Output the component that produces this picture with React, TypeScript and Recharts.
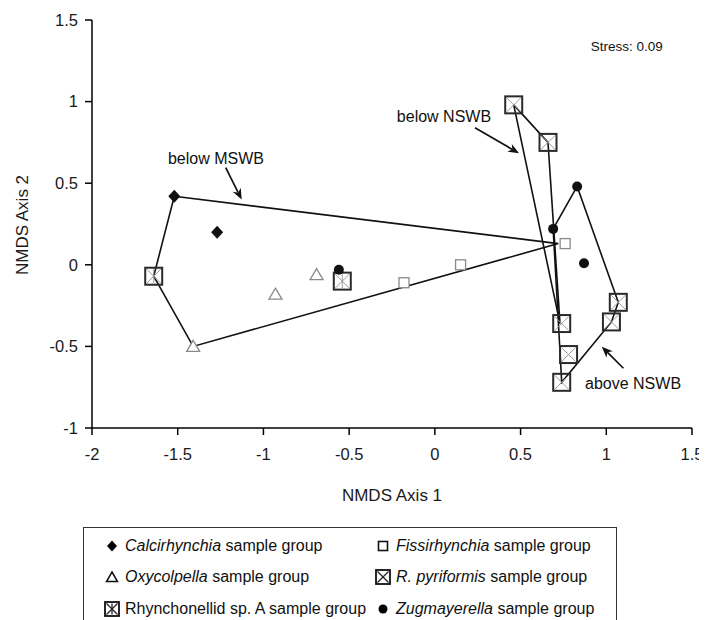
import { ScatterChart, Scatter, XAxis, YAxis, ReferenceLine, ReferenceDot } from 'recharts';

type Pt = { x: number; y: number };

// sample groups (NMDS axis 1, axis 2)
const calcirhynchia: Pt[] = [{ x: -1.52, y: 0.42 }, { x: -1.27, y: 0.2 }];
const fissirhynchia: Pt[] = [{ x: -0.18, y: -0.11 }, { x: 0.15, y: 0.0 }, { x: 0.76, y: 0.13 }];
const oxycolpella: Pt[] = [{ x: -1.41, y: -0.5 }, { x: -0.93, y: -0.18 }, { x: -0.69, y: -0.06 }];
const rPyriformis: Pt[] = [
  { x: 0.46, y: 0.98 }, { x: 0.66, y: 0.75 }, { x: 0.74, y: -0.36 }, { x: 0.78, y: -0.55 },
  { x: 0.74, y: -0.72 }, { x: 1.03, y: -0.35 }, { x: 1.07, y: -0.23 },
];
const rhynchonellidA: Pt[] = [{ x: -1.64, y: -0.07 }, { x: -0.54, y: -0.1 }];
const zugmayerella: Pt[] = [{ x: -0.56, y: -0.03 }, { x: 0.69, y: 0.22 }, { x: 0.83, y: 0.48 }, { x: 0.87, y: 0.01 }];

// hull outlines, closed
const hullBelowMSWB: Pt[] = [
  { x: -1.52, y: 0.42 }, { x: 0.72, y: 0.13 }, { x: -1.41, y: -0.5 }, { x: -1.64, y: -0.07 }, { x: -1.52, y: 0.42 },
];
const hullBelowNSWB: Pt[] = [{ x: 0.46, y: 0.98 }, { x: 0.66, y: 0.75 }, { x: 0.73, y: -0.36 }, { x: 0.46, y: 0.98 }];
const hullAboveNSWB: Pt[] = [
  { x: 0.69, y: 0.22 }, { x: 0.83, y: 0.48 }, { x: 1.07, y: -0.23 }, { x: 1.03, y: -0.35 }, { x: 0.74, y: -0.72 }, { x: 0.69, y: 0.22 },
];

const xTicks = [-2, -1.5, -1, -0.5, 0, 0.5, 1, 1.5];
const yTicks = [-1, -0.5, 0, 0.5, 1, 1.5];

const FONT = 'Arial, "Liberation Sans", sans-serif';
const INK = '#111';
const GREY = '#8a8a8a';

const Diamond = ({ cx, cy }: any) => (
  <polygon points={`${cx},${cy - 6.5} ${cx + 6},${cy} ${cx},${cy + 6.5} ${cx - 6},${cy}`} fill={INK} />
);
const OpenSquare = ({ cx, cy }: any) => (
  <rect x={cx - 5} y={cy - 5} width={10} height={10} fill="#fff" stroke={GREY} strokeWidth={1.3} />
);
const Triangle = ({ cx, cy }: any) => (
  <polygon points={`${cx},${cy - 6} ${cx + 6.5},${cy + 5} ${cx - 6.5},${cy + 5}`} fill="#fff" stroke={GREY} strokeWidth={1.3} />
);
const XBox = ({ cx, cy }: any) => (
  <g>
    <line x1={cx - 7} y1={cy - 7} x2={cx + 7} y2={cy + 7} stroke="#999" strokeWidth={1} />
    <line x1={cx + 7} y1={cy - 7} x2={cx - 7} y2={cy + 7} stroke="#999" strokeWidth={1} />
    <rect x={cx - 8.5} y={cy - 8.5} width={17} height={17} fill="none" stroke="#2a2a2a" strokeWidth={2} />
  </g>
);
const StarBox = ({ cx, cy }: any) => (
  <g>
    <line x1={cx - 7} y1={cy - 7} x2={cx + 7} y2={cy + 7} stroke="#999" strokeWidth={1} />
    <line x1={cx + 7} y1={cy - 7} x2={cx - 7} y2={cy + 7} stroke="#999" strokeWidth={1} />
    <line x1={cx} y1={cy - 7} x2={cx} y2={cy + 7} stroke="#999" strokeWidth={1} />
    <rect x={cx - 8.5} y={cy - 8.5} width={17} height={17} fill="none" stroke="#2a2a2a" strokeWidth={2} />
  </g>
);
const Dot = ({ cx, cy }: any) => <circle cx={cx} cy={cy} r={5} fill={INK} />;
const NoMark = () => <g />;

const Arrow = (p: any) => {
  const { x1, y1, x2, y2 } = p;
  const a = Math.atan2(y2 - y1, x2 - x1);
  const L = 11, W = 4.5;
  const bx = x2 - L * Math.cos(a), by = y2 - L * Math.sin(a);
  const nx = -Math.sin(a), ny = Math.cos(a);
  const mx = x2 - L * 0.7 * Math.cos(a), my = y2 - L * 0.7 * Math.sin(a);
  return (
    <g>
      <line x1={x1} y1={y1} x2={mx} y2={my} stroke={INK} strokeWidth={1.7} />
      <polygon
        points={`${x2},${y2} ${bx + nx * W},${by + ny * W} ${mx},${my} ${bx - nx * W},${by - ny * W}`}
        fill={INK}
      />
    </g>
  );
};

const note = (text: string, anchor: 'start' | 'middle' | 'end', size = 16) => (p: any) => (
  <text x={p.cx} y={p.cy} dy="0.35em" textAnchor={anchor} fontSize={size} fontFamily={FONT} fill={INK}>
    {text}
  </text>
);

const legendRows = [
  [{ mark: 'diamond', name: 'Calcirhynchia', italic: true }, { mark: 'square', name: 'Fissirhynchia', italic: true }],
  [{ mark: 'triangle', name: 'Oxycolpella', italic: true }, { mark: 'xbox', name: 'R. pyriformis', italic: true }],
  [{ mark: 'starbox', name: 'Rhynchonellid sp. A', italic: false }, { mark: 'dot', name: 'Zugmayerella', italic: true }],
];

function LegendMark({ kind }: { kind: string }) {
  const c = 8;
  return (
    <svg width={16} height={16} style={{ display: 'block', flexShrink: 0 }}>
      {kind === 'diamond' && <polygon points={`${c},${c - 5.5} ${c + 5},${c} ${c},${c + 5.5} ${c - 5},${c}`} fill="#000" />}
      {kind === 'square' && <rect x={c - 4.5} y={c - 4.5} width={9} height={9} fill="#fff" stroke="#111" strokeWidth={1.6} />}
      {kind === 'triangle' && <polygon points={`${c},${c - 5} ${c + 5.5},${c + 4.5} ${c - 5.5},${c + 4.5}`} fill="#fff" stroke="#111" strokeWidth={1.5} />}
      {(kind === 'xbox' || kind === 'starbox') && (
        <g>
          <line x1={c - 5.5} y1={c - 5.5} x2={c + 5.5} y2={c + 5.5} stroke="#222" strokeWidth={1.3} />
          <line x1={c + 5.5} y1={c - 5.5} x2={c - 5.5} y2={c + 5.5} stroke="#222" strokeWidth={1.3} />
          {kind === 'starbox' && <line x1={c} y1={c - 5.5} x2={c} y2={c + 5.5} stroke="#222" strokeWidth={1.3} />}
          <rect x={c - 7} y={c - 7} width={14} height={14} fill="none" stroke="#111" strokeWidth={1.8} />
        </g>
      )}
      {kind === 'dot' && <circle cx={c} cy={c} r={4.5} fill="#000" />}
    </svg>
  );
}

export default function App() {
  return (
    <div style={{ position: 'relative', width: 699, height: 612, overflow: 'hidden', fontFamily: FONT }}>
      <ScatterChart width={699} height={612} margin={{ top: 12, right: 15, bottom: 112, left: 0 }}>
        <XAxis
          type="number"
          dataKey="x"
          domain={[-2, 1.5]}
          ticks={xTicks}
          allowDataOverflow
          height={80}
          axisLine={{ stroke: '#000', strokeWidth: 1.5 }}
          tickLine={{ stroke: '#000', strokeWidth: 1.5 }}
          tickSize={7}
          tickMargin={13}
          tick={{ fill: '#1a1a1a', fontSize: 16.5, fontFamily: FONT }}
          label={{ value: 'NMDS Axis 1', position: 'insideBottom', offset: 7, fill: '#1a1a1a', fontSize: 17, fontFamily: FONT }}
        />
        <YAxis
          type="number"
          dataKey="y"
          domain={[-1, 1.5]}
          ticks={yTicks}
          allowDataOverflow
          width={84}
          axisLine={{ stroke: '#000', strokeWidth: 1.5 }}
          tickLine={{ stroke: '#000', strokeWidth: 1.5 }}
          tickSize={7}
          tickMargin={7}
          tick={{ fill: '#1a1a1a', fontSize: 16.5, fontFamily: FONT }}
          label={{
            content: ({ viewBox }: any) => {
              const x = viewBox.x + 14;
              const y = viewBox.y + viewBox.height / 2 + 1;
              return (
                <text x={x} y={y} transform={`rotate(-90, ${x}, ${y})`} textAnchor="middle" dy="0.35em"
                  fontSize={17} fontFamily={FONT} fill="#1a1a1a">
                  NMDS Axis 2
                </text>
              );
            },
          }}
        />

        <Scatter data={hullBelowMSWB} line={{ stroke: INK, strokeWidth: 1.6 }} shape={NoMark} isAnimationActive={false} />
        <Scatter data={hullBelowNSWB} line={{ stroke: INK, strokeWidth: 1.6 }} shape={NoMark} isAnimationActive={false} />
        <Scatter data={hullAboveNSWB} line={{ stroke: INK, strokeWidth: 1.6 }} shape={NoMark} isAnimationActive={false} />

        <Scatter name="Fissirhynchia" data={fissirhynchia} shape={OpenSquare} isAnimationActive={false} />
        <Scatter name="Oxycolpella" data={oxycolpella} shape={Triangle} isAnimationActive={false} />
        <Scatter name="R. pyriformis" data={rPyriformis} shape={XBox} isAnimationActive={false} />
        <Scatter name="Rhynchonellid sp. A" data={rhynchonellidA} shape={StarBox} isAnimationActive={false} />
        <Scatter name="Calcirhynchia" data={calcirhynchia} shape={Diamond} isAnimationActive={false} />
        <Scatter name="Zugmayerella" data={zugmayerella} shape={Dot} isAnimationActive={false} />

        <ReferenceLine segment={[{ x: -1.22, y: 0.595 }, { x: -1.127, y: 0.4 }]} shape={Arrow} />
        <ReferenceLine segment={[{ x: 0.234, y: 0.84 }, { x: 0.491, y: 0.683 }]} shape={Arrow} />
        <ReferenceLine segment={[{ x: 1.1, y: -0.634 }, { x: 0.974, y: -0.502 }]} shape={Arrow} />

        <ReferenceDot x={-1.277} y={0.654} r={0} shape={note('below MSWB', 'middle')} />
        <ReferenceDot x={0.328} y={0.907} r={0} shape={note('below NSWB', 'end')} />
        <ReferenceDot x={0.876} y={-0.724} r={0} shape={note('above NSWB', 'start')} />
        <ReferenceDot x={0.91} y={1.336} r={0} shape={note('Stress: 0.09', 'start', 13.5)} />
      </ScatterChart>

      <div
        style={{
          position: 'absolute', left: 75, top: 519, width: 534, height: 130,
          border: '1.5px solid #333', background: '#fff', boxSizing: 'border-box',
          paddingTop: 2.6, paddingLeft: 20, fontSize: 16, color: '#111',
        }}
      >
        {legendRows.map((row, i) => (
          <div key={i} style={{ display: 'flex', height: 31.2, alignItems: 'center' }}>
            {row.map((it, j) => (
              <div key={j} style={{ display: 'flex', alignItems: 'center', flexShrink: 0, width: j === 0 ? 271 : 235, gap: 5 }}>
                <LegendMark kind={it.mark} />
                <span style={{ whiteSpace: 'nowrap' }}>
                  <span style={{ fontStyle: it.italic ? 'italic' : 'normal' }}>{it.name}</span> sample group
                </span>
              </div>
            ))}
          </div>
        ))}
      </div>
    </div>
  );
}
